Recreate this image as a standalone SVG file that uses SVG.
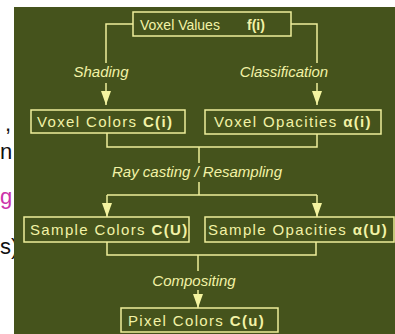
<svg xmlns="http://www.w3.org/2000/svg" width="395" height="334" viewBox="0 0 395 334">
<style>
.frag{font-family:"Liberation Sans",Arial,sans-serif;font-size:22px;fill:#111}
.box{fill:none;stroke:#eeee9a;stroke-width:1.5}
.t{font-family:"Liberation Sans",Arial,sans-serif;font-size:15px;fill:#f2f2a6;letter-spacing:1.35px}
.b{font-weight:bold}
.lbl{font-family:"Liberation Sans",Arial,sans-serif;font-size:15px;font-style:italic;fill:#f2f2a6;text-anchor:middle}
.ln{fill:none;stroke:#eeee9a;stroke-width:1.5}
</style>
<defs>
<marker id="ah" markerUnits="userSpaceOnUse" markerWidth="14" markerHeight="12" viewBox="0 0 14 12" refX="14" refY="6" orient="auto">
<path d="M0,1 L14,6 L0,11 Z" fill="#f4f4a0"/>
</marker>
</defs>
<rect width="395" height="334" fill="#ffffff"/>
<text class="frag" x="5" y="131">,</text>
<text class="frag" x="0" y="159">n</text>
<text class="frag" x="0" y="204" style="fill:#cc33aa">g</text>
<text class="frag" x="0" y="254">s)</text>
<rect x="14" y="7" width="381" height="327" fill="#45531c"/>
<g id="connectors">
<path class="ln" d="M133,24 H106 V63"/>
<path class="ln" d="M106,83 V105" marker-end="url(#ah)"/>
<path class="ln" d="M291,24 H317 V63"/>
<path class="ln" d="M317,83 V105" marker-end="url(#ah)"/>
<path class="ln" d="M107,133 V147 H317 V134"/>
<path class="ln" d="M199,147 V163"/>
<path class="ln" d="M199,182 V195"/>
<path class="ln" d="M107,195 H317"/>
<path class="ln" d="M107,195 V217" marker-end="url(#ah)"/>
<path class="ln" d="M317,195 V217" marker-end="url(#ah)"/>
<path class="ln" d="M107,242 V255 H316 V242"/>
<path class="ln" d="M198,255 V271"/>
<path class="ln" d="M198,290 V308" marker-end="url(#ah)"/>
<text class="lbl" x="101" y="77">Shading</text>
<text class="lbl" x="284" y="77">Classification</text>
<text class="lbl" x="197" y="177">Ray casting / Resampling</text>
<text class="lbl" x="194" y="286">Compositing</text>
</g>
<g id="voxel-values">
<rect class="box" x="133" y="12" width="158" height="24"/>
<text class="t" x="140" y="30" style="letter-spacing:0;font-size:14px">Voxel Values</text>
<text class="t b" x="247" y="30" style="letter-spacing:0;font-size:14px">f(i)</text>
</g>
<g id="voxel-colors">
<rect class="box" x="31" y="110" width="154" height="23"/>
<text class="t" x="37" y="127">Voxel Colors <tspan class="b">C(i)</tspan></text>
</g>
<g id="voxel-opacities">
<rect class="box" x="205" y="110" width="176" height="24"/>
<text class="t" x="214" y="127">Voxel Opacities <tspan class="b">α(i)</tspan></text>
</g>
<g id="sample-colors">
<rect class="box" x="24" y="217" width="165" height="25"/>
<text class="t" x="30" y="235">Sample Colors <tspan class="b">C(U)</tspan></text>
</g>
<g id="sample-opacities">
<rect class="box" x="205" y="217" width="189" height="25"/>
<text class="t" x="208" y="235">Sample Opacities  <tspan class="b">α(U)</tspan></text>
</g>
<g id="pixel-colors">
<rect class="box" x="121" y="308" width="157" height="24"/>
<text class="t" x="128" y="326">Pixel Colors <tspan class="b">C(u)</tspan></text>
</g>
</svg>
